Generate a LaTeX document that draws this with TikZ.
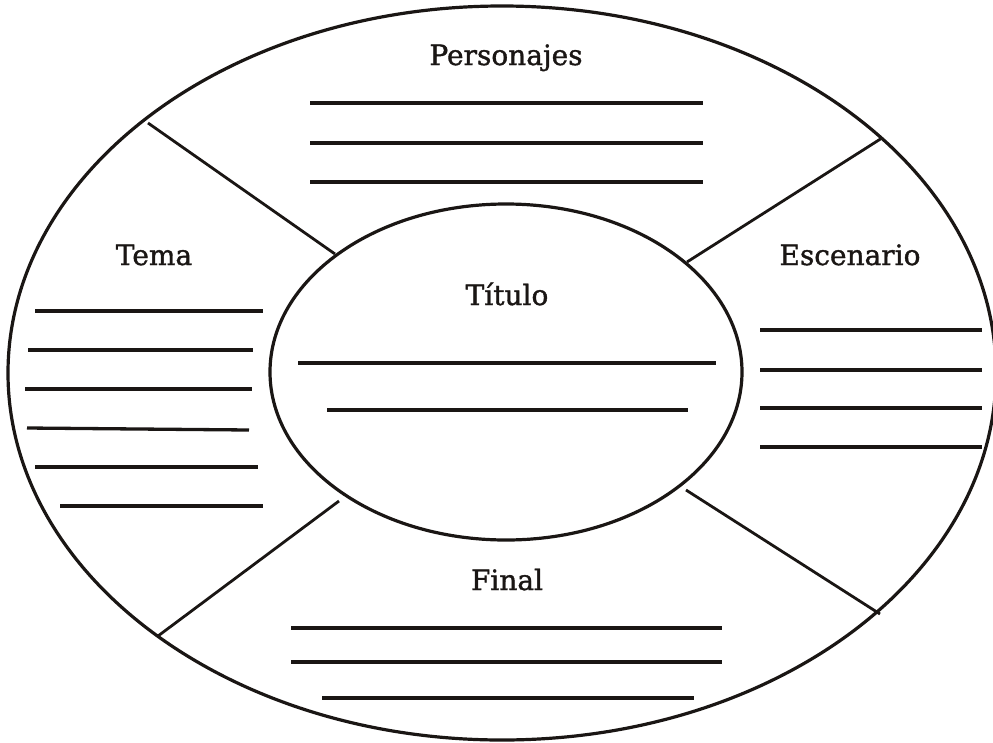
\documentclass[tikz,border=0pt]{standalone}
\usepackage{fontspec}
\setmainfont{DejaVu Serif}
\newfontfamily\labfont{DejaVu Serif}[FakeBold=1.3]
\begin{document}
\begin{tikzpicture}[x=1pt,y=-1pt,
  ink/.style={draw=inkc,line width=3.2pt},
  divider/.style={draw=inkc,line width=2.8pt},
  writeline/.style={draw=inkc,line width=3.3pt},
  label/.style={anchor=base,font=\labfont\fontsize{28}{32}\selectfont,text=inkc,inner sep=0pt}]
\definecolor{inkc}{HTML}{1A1614}
\useasboundingbox (0,0) rectangle (993,742);
% outer and inner ellipses
\draw[ink] (502,373) ellipse [x radius=494, y radius=367];
\draw[ink] (506,372) ellipse [x radius=236, y radius=168];
% dividers
\coordinate (o1) at (148,123); \coordinate (i1) at (335,254);
\coordinate (o2) at (882,138); \coordinate (i2) at (687,262);
\coordinate (o3) at (158,636); \coordinate (i3) at (339,501);
\coordinate (o4) at (880,614); \coordinate (i4) at (686,490);
\draw[divider] (o1) -- (i1);
\draw[divider] (o2) -- (i2);
\draw[divider] (o3) -- (i3);
\draw[divider] (o4) -- (i4);
% labels
\node[label] (pers) at (506,65) {Personajes};
\node[label] (tema) at (154,265) {Tema};
\node[label] (esc) at (850,265) {Escenario};
\node[label] (tit) at (507,305) {Título};
\node[label] (fin) at (507,590) {Final};
% Personajes lines
\draw[writeline] (310,103) -- (703,103);
\draw[writeline] (310,143) -- (703,143);
\draw[writeline] (310,182) -- (703,182);
% Tema lines
\draw[writeline] (35,311) -- (263,311);
\draw[writeline] (28,350) -- (253,350);
\draw[writeline] (25,389) -- (252,389);
\draw[writeline] (27,428) -- (249,430);
\draw[writeline] (35,467) -- (258,467);
\draw[writeline] (60,506) -- (263,506);
% Escenario lines
\draw[writeline] (760,330) -- (982,330);
\draw[writeline] (760,370) -- (982,370);
\draw[writeline] (760,408) -- (982,408);
\draw[writeline] (760,447) -- (982,447);
% Titulo lines
\draw[writeline] (298,363) -- (716,363);
\draw[writeline] (327,410) -- (688,410);
% Final lines
\draw[writeline] (291,628) -- (722,628);
\draw[writeline] (291,662) -- (722,662);
\draw[writeline] (322,698) -- (694,698);
\end{tikzpicture}
\end{document}
